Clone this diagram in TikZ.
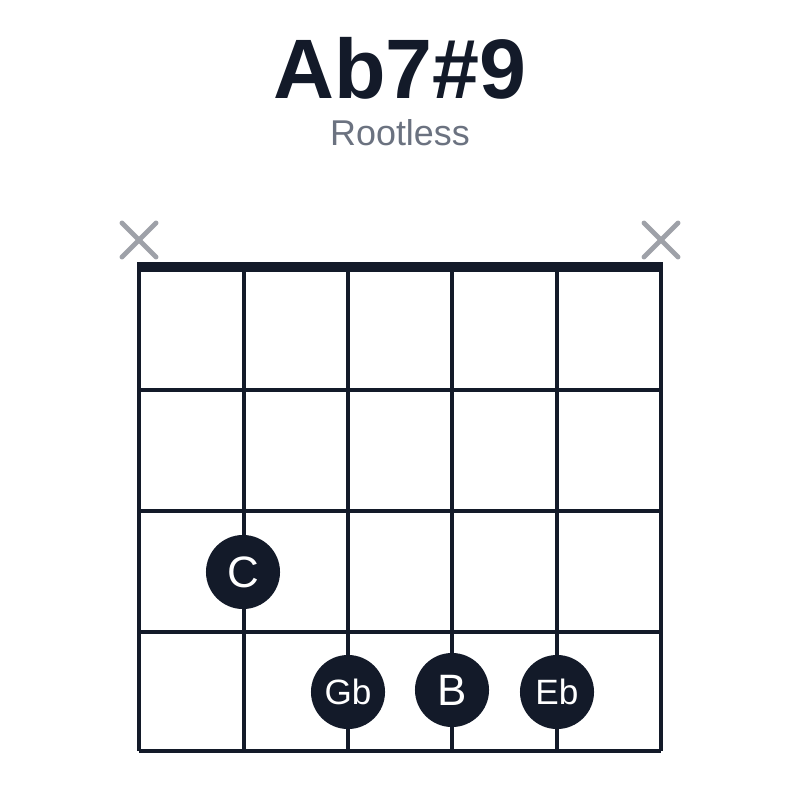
\documentclass[tikz,border=0pt]{standalone}
\usepackage{fontspec}
\setmainfont{Liberation Sans}
\definecolor{ink}{HTML}{131A29}
\definecolor{muted}{HTML}{6B7280}
\definecolor{mutedx}{HTML}{9EA1A8}

\begin{document}
\begin{tikzpicture}[
  x=0.01cm, y=-0.01cm,
  gridline/.style={draw=ink, line width=0.9pt},
  nutline/.style={draw=ink, line width=3.1pt},
  mutemark/.style={draw=mutedx, line width=1.4pt, line cap=round},
  notenode/.style={circle, fill=ink, text=white, minimum size=0.74cm, inner sep=0pt},
]

\fill[white] (0,0) rectangle (800,800);
\useasboundingbox (0,0) rectangle (800,800);

% title
\node[anchor=base, text=ink, font=\fontsize{24}{28}\bfseries\selectfont] (title) at (400,98) {Ab7\#9};
\node[anchor=base, text=muted, font=\fontsize{10.2}{12}\selectfont] (subtitle) at (400,145) {Rootless};

% frets
\draw[gridline] (139,390) -- (661,390);
\draw[gridline] (139,511) -- (661,511);
\draw[gridline] (139,632) -- (661,632);
\draw[gridline] (139,751) -- (661,751);

% strings
\draw[gridline] (139,267) -- (139,751);
\draw[gridline] (244,267) -- (244,751);
\draw[gridline] (348,267) -- (348,751);
\draw[gridline] (452,267) -- (452,751);
\draw[gridline] (557,267) -- (557,751);
\draw[gridline] (661,267) -- (661,751);

% nut
\draw[nutline] (137,267) -- (663,267);

% muted strings
\draw[mutemark] (122,223) -- (156,257);
\draw[mutemark] (122,257) -- (156,223);
\draw[mutemark] (644,223) -- (678,257);
\draw[mutemark] (644,257) -- (678,223);

% notes
\node[notenode, font=\fontsize{12.5}{14}\selectfont] (noteC) at (243,572) {C};
\node[notenode, font=\fontsize{10}{12}\selectfont] (noteGb) at (348,692) {Gb};
\node[notenode, font=\fontsize{12.5}{14}\selectfont] (noteB) at (452,690) {B};
\node[notenode, font=\fontsize{10}{12}\selectfont] (noteEb) at (557,692) {Eb};

\end{tikzpicture}
\end{document}
